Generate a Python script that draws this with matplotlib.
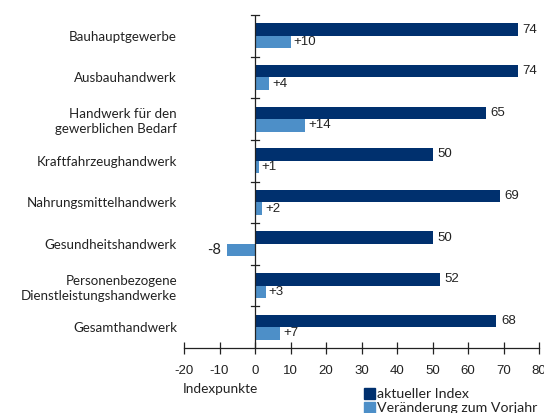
import matplotlib
matplotlib.use("Agg")
import matplotlib.pyplot as plt
import numpy as np
from matplotlib.patches import Rectangle

categories = ["Bauhauptgewerbe", "Ausbauhandwerk", "Handwerk für den\ngewerblichen Bedarf",
              "Kraftfahrzeughandwerk", "Nahrungsmittelhandwerk", "Gesundheitshandwerk",
              "Personenbezogene\nDienstleistungshandwerke", "Gesamthandwerk"]
index_vals = [74, 74, 65, 50, 69, 50, 52, 68]
change_vals = [10, 4, 14, 1, 2, -8, 3, 7]
xticks = [-20, -10, 0, 10, 20, 30, 40, 50, 60, 70, 80]
series_names = ["aktueller Index", "Veränderung zum Vorjahr"]

dark = "#00306E"
light = "#4D8FC8"
label_font = "Lato"

fig = plt.figure(figsize=(5.44, 4.13), dpi=100)
ax = fig.add_axes([184/544, 1-348/413, (539-184)/544, (348-15)/413])

n = len(categories)
pos = np.arange(n)
h = 0.3
ax.barh(pos - h/2, index_vals, height=h, color=dark, zorder=2)
ax.barh(pos + h/2, change_vals, height=h, color=light, zorder=2)
ax.set_ylim(n - 0.5, -0.5)
ax.set_xlim(-20, 80)

for i, v in enumerate(index_vals):
    ax.text(v + 1.3, i - h/2, f"{v}", va="center", ha="left", fontsize=9.5,
            family="Liberation Sans", color="#222222")
for i, v in enumerate(change_vals):
    if v >= 0:
        ax.text(v + 0.9, i + h/2, f"+{v}", va="center", ha="left", fontsize=9.5,
                family="Liberation Sans", color="#222222")
    else:
        ax.text(v - 1.5, i + h/2, f"{v}", va="center", ha="right", fontsize=10.5,
                family=label_font, color="#222222")

for s in ["top", "right", "left"]:
    ax.spines[s].set_visible(False)
ax.spines["bottom"].set_color("#222222")
ax.spines["bottom"].set_linewidth(0.9)
ax.axvline(0, color="#222222", lw=0.9, zorder=3)

ax.set_xticks(xticks)
ax.set_xticklabels([str(t) for t in xticks], family="Liberation Sans", fontsize=9.5)
ax.tick_params(axis="x", direction="inout", length=8, width=0.9, pad=8, colors="#222222")

ax.set_yticks(pos)
ax.set_yticklabels(categories, family=label_font, fontsize=9.6, linespacing=1.3,
                   color="#222222")
ax.tick_params(axis="y", length=0, pad=5)

for b in np.arange(-0.5, n, 1.0)[:-1]:
    ax.plot([-1.2, 1.2], [b, b], color="#222222", lw=0.9, clip_on=False, zorder=4)

fig.text(183/544, 1-389/413, "Indexpunkte", family=label_font, fontsize=9.8,
         ha="left", va="center", color="#222222")

for j, (name, col) in enumerate(zip(series_names, [dark, light])):
    yc = 1 - (394 + j*14)/413
    fig.patches.append(Rectangle((364/544, yc - 5/413), 11/544, 11/413,
                                 transform=fig.transFigure, color=col, figure=fig))
    fig.text(377/544, yc, name, family=label_font, fontsize=10.2,
             ha="left", va="center", color="#222222")

fig.savefig("out.png", dpi=100)
